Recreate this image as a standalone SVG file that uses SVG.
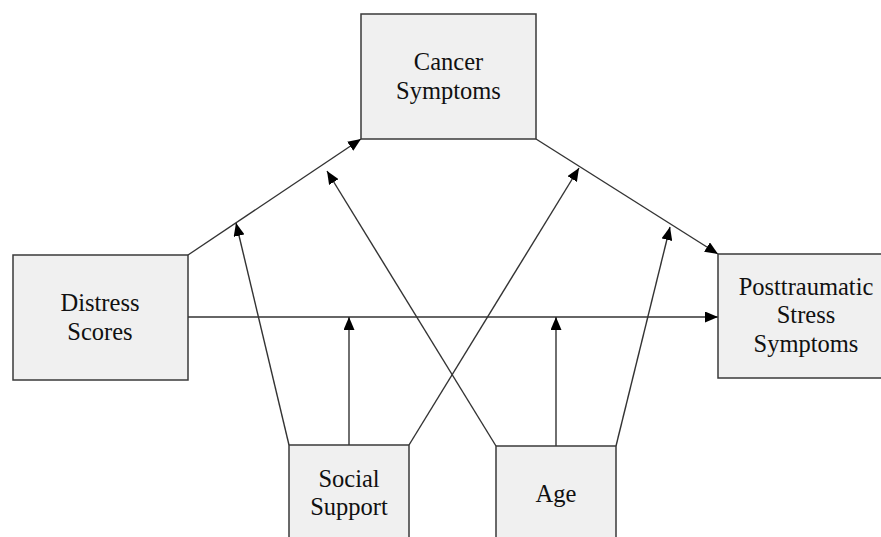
<svg xmlns="http://www.w3.org/2000/svg" width="881" height="537" viewBox="0 0 881 537">
<style>
.box{fill:#f0f0f0;stroke:#3a3a3a;stroke-width:1.5}
.lbl{font-family:"Liberation Serif","Times New Roman",serif;font-size:24.5px;fill:#111;text-anchor:middle}
.edge{stroke:#333;stroke-width:1.4;fill:none;marker-end:url(#ah)}
</style>
<defs>
<marker id="ah" markerUnits="userSpaceOnUse" markerWidth="13" markerHeight="11" refX="13" refY="5.5" orient="auto">
<path d="M0,0 L13,5.5 L0,11 z" fill="#000"/>
</marker>
</defs>
<rect width="881" height="537" fill="#fff"/>
<g id="connectors">
<line class="edge" x1="188" y1="255" x2="361" y2="139"/>
<line class="edge" x1="536" y1="139" x2="718" y2="254"/>
<line class="edge" x1="188" y1="317" x2="718" y2="317"/>
<line class="edge" x1="289" y1="445" x2="236" y2="223"/>
<line class="edge" x1="349" y1="445" x2="349" y2="317"/>
<line class="edge" x1="409" y1="445" x2="579" y2="168"/>
<line class="edge" x1="496" y1="446" x2="327" y2="171"/>
<line class="edge" x1="556" y1="446" x2="556" y2="317"/>
<line class="edge" x1="616" y1="446" x2="670" y2="227"/>
</g>
<g id="cancer">
<rect class="box" x="361" y="14" width="175" height="125"/>
<text class="lbl" x="448.5" y="70">Cancer</text>
<text class="lbl" x="448.5" y="99">Symptoms</text>
</g>
<g id="distress">
<rect class="box" x="13" y="255" width="175" height="125"/>
<text class="lbl" x="100" y="311">Distress</text>
<text class="lbl" x="100" y="340">Scores</text>
</g>
<g id="ptss">
<rect class="box" x="718" y="254" width="165" height="124"/>
<text class="lbl" x="806" y="295">Posttraumatic</text>
<text class="lbl" x="806" y="323">Stress</text>
<text class="lbl" x="806" y="352">Symptoms</text>
</g>
<g id="social">
<rect class="box" x="289" y="445" width="120" height="100"/>
<text class="lbl" x="349" y="487">Social</text>
<text class="lbl" x="349" y="515">Support</text>
</g>
<g id="age">
<rect class="box" x="496" y="446" width="120" height="100"/>
<text class="lbl" x="556" y="502">Age</text>
</g>
</svg>
